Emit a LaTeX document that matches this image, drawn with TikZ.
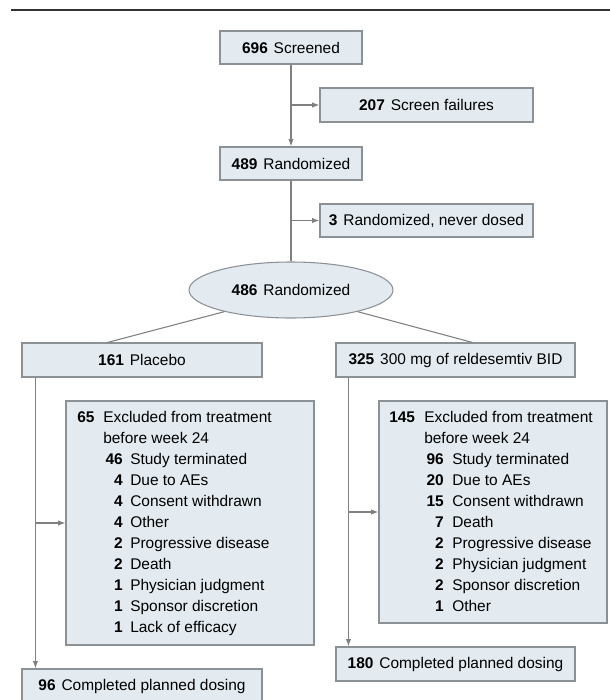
\documentclass[tikz,border=0pt]{standalone}
\usepackage{fontspec}
\setmainfont{Liberation Sans}
\usetikzlibrary{arrows.meta,shapes.geometric,calc}
\definecolor{boxfill}{HTML}{E4EBF0}
\definecolor{boxline}{HTML}{8C9196}
\definecolor{conn}{HTML}{808080}
\definecolor{rule}{HTML}{333333}
\newcommand{\fsz}{\fontsize{11.6pt}{14pt}\selectfont}
\newcommand{\nb}[1]{\textbf{#1}\hspace{0.38em}}
\tikzset{
  box/.style={draw=boxline, fill=boxfill, line width=0.8pt, inner sep=0pt, font=\fsz, align=center},
  ellbox/.style={box, ellipse},
  conline/.style={draw=conn, line width=0.8pt},
  arr/.style={conline, -{Latex[length=5.5pt,width=4pt]}},
  txt/.style={inner sep=0pt, font=\fsz, text=black},
  numtxt/.style={inner sep=0pt, font=\fsz\bfseries, text=black},
}
\begin{document}
\begin{tikzpicture}[x=0.75pt,y=-0.75pt]
\useasboundingbox (0,0) rectangle (610,700);
\draw[rule, line width=1.5pt] (11,9.5) coordinate (r1) -- (610,9.5) coordinate (r2);

% boxes
\node[box, minimum width=106.5pt, minimum height=24.75pt] (scr) at (291,47.5) {\nb{696}Screened};
\node[box, minimum width=159.75pt, minimum height=25.5pt] (fail) at (426.5,105) {\nb{207}Screen failures};
\node[box, minimum width=106.5pt, minimum height=24.75pt] (rand) at (291,163.5) {\nb{489}Randomized};
\node[box, minimum width=159.75pt, minimum height=24.75pt] (never) at (426.5,220.5) {\nb{3}Randomized, never dosed};
\node[ellbox, minimum width=153pt, minimum height=42pt] (ell) at (291,290) {\nb{486}Randomized};
\node[box, minimum width=180pt, minimum height=25.5pt] (pl) at (142,360) {\nb{161}Placebo};
\node[box, minimum width=179.25pt, minimum height=25.5pt] (rel) at (455.5,360) {\nb{325}300 mg of reldesemtiv BID};
\node[box, minimum width=186pt, minimum height=183pt] (exL) at (190,523) {};
\node[box, minimum width=171pt, minimum height=166.5pt] (exR) at (493,512) {};
\node[box, minimum width=180pt, minimum height=25.5pt] (cL) at (142,686) {\nb{96}Completed planned dosing};
\node[box, minimum width=179.25pt, minimum height=25.5pt] (cR) at (455.5,664) {\nb{180}Completed planned dosing};

% left exclusion text
\node[numtxt, anchor=base west] (lh) at (77,422) {65};
\node[txt, anchor=base west] (lh1) at (103,422) {Excluded from treatment};
\node[txt, anchor=base west] (lh2) at (103,443) {before week 24};
\foreach \n/\t [count=\i] in {46/Study terminated, 4/Due to AEs, 4/Consent withdrawn, 4/Other, 2/Progressive disease, 2/Death, 1/Physician judgment, 1/Sponsor discretion, 1/Lack of efficacy}{
  \node[numtxt, anchor=base east] (ln\i) at ({123},{443+21*\i}) {\n};
  \node[txt, anchor=base west] (lt\i) at ({130},{443+21*\i}) {\t};
}
% right exclusion text
\node[numtxt, anchor=base west] (rh) at (389,422) {145};
\node[txt, anchor=base west] (rh1) at (424,422) {Excluded from treatment};
\node[txt, anchor=base west] (rh2) at (424,443) {before week 24};
\foreach \n/\t [count=\i] in {96/Study terminated, 20/Due to AEs, 15/Consent withdrawn, 7/Death, 2/Progressive disease, 2/Physician judgment, 2/Sponsor discretion, 1/Other}{
  \node[numtxt, anchor=base east] (rn\i) at ({444},{443+21*\i}) {\n};
  \node[txt, anchor=base west] (rt\i) at ({452},{443+21*\i}) {\t};
}

% connectors
\draw[arr] (scr.south) -- (rand.north);
\draw[arr] (scr.south |- fail.west) -- (fail.west);
\draw[conline] (rand.south) -- (ell.north);
\draw[arr] (rand.south |- never.west) -- (never.west);
\coordinate (plt) at ($(pl.north west)+(86,0)$);
\coordinate (rlt) at ($(rel.north west)+(137,0)$);
\draw[conline] (ell.-162) -- (plt);
\draw[conline] (ell.-18) -- (rlt);
\coordinate (plb) at ($(pl.south west)+(14,0)$);
\coordinate (rlb) at ($(rel.south west)+(13,0)$);
\draw[arr] (plb) -- (plb |- cL.north);
\draw[arr] (plb |- exL.west) -- (exL.west);
\draw[arr] (rlb) -- (rlb |- cR.north);
\draw[arr] (rlb |- exR.west) -- (exR.west);
\end{tikzpicture}
\end{document}
